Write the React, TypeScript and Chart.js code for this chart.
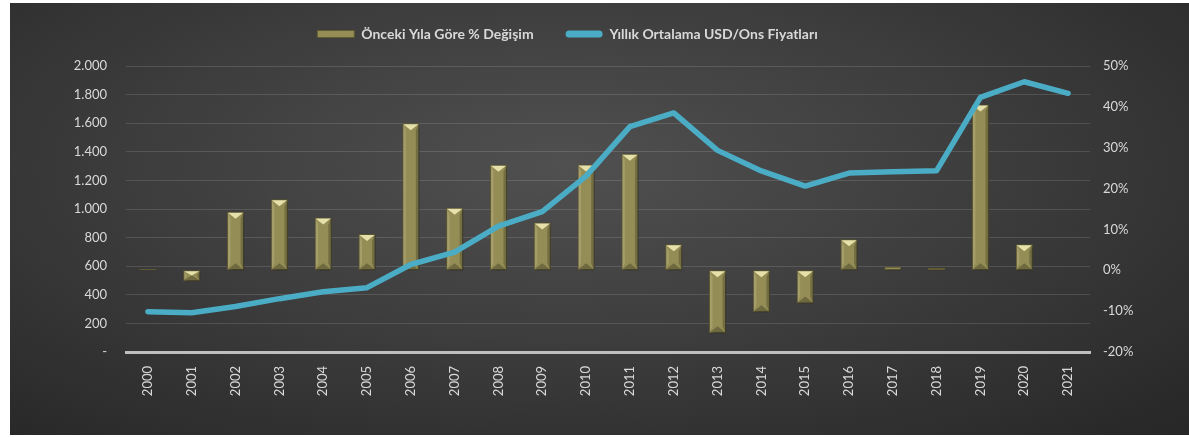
import { useEffect, useRef } from 'react';
import { Chart, registerables } from 'chart.js';

Chart.register(...registerables);

// ---------- data ----------
const years = ['2000', '2001', '2002', '2003', '2004', '2005', '2006', '2007', '2008', '2009', '2010',
  '2011', '2012', '2013', '2014', '2015', '2016', '2017', '2018', '2019', '2020', '2021'];

// Önceki yıla göre % değişim (right axis)
const pctChange: (number | null)[] = [0.3, -2.6, 14.3, 17.4, 12.9, 8.9, 36.0, 15.3, 25.8, 11.7, 25.9,
  28.5, 6.4, -15.4, -10.3, -8.1, 7.6, 0.9, 0.6, 40.6, 6.4, null];

// Yıllık ortalama USD/Ons (left axis)
const avgPrice = [282, 275, 318, 373, 421, 450, 612, 698, 880, 981, 1230,
  1576, 1672, 1410, 1266, 1160, 1251, 1261, 1268, 1780, 1890, 1809];

const leftTickLabels = ['-', '200', '400', '600', '800', '1.000', '1.200', '1.400', '1.600', '1.800', '2.000'];
const rightTickLabels = ['-20%', '-10%', '0%', '10%', '20%', '30%', '40%', '50%'];

const barLabel = 'Önceki Yıla Göre % Değişim';
const lineLabel = 'Yıllık Ortalama USD/Ons Fiyatları';

// ---------- styles ----------
const FONT = 'Lato, "Open Sans", "DejaVu Sans", sans-serif';
const TEXT = '#d9d9d9';
const BAR = '#958d56';
const BAR_EDGE = '#5f5a31';
const LINE = '#4bacc6';

const bevelPlugin = {
  id: 'bevel',
  beforeDatasetDraw(chart: any, args: any) {
    if (args.index !== 0) return;
    const ctx = chart.ctx;
    ctx.save();
    ctx.shadowColor = 'rgba(0,0,0,0.5)';
    ctx.shadowBlur = 3;
    ctx.shadowOffsetX = 1.5;
    ctx.shadowOffsetY = 1.5;
  },
  afterDatasetDraw(chart: any, args: any) {
    if (args.index !== 0) return;
    const ctx = chart.ctx;
    ctx.restore();
    ctx.save();
    args.meta.data.forEach((el: any) => {
      const { x, y, base, width } = el.getProps(['x', 'y', 'base', 'width'], true);
      if (y == null || isNaN(y)) return;
      const l = x - width / 2 + 1;
      const r = x + width / 2 - 1;
      const t = Math.min(y, base) + 1;
      const b = Math.max(y, base) - 1;
      const h = b - t;
      if (h < 3) return;
      const d = Math.min(6, h / 2);
      const s = Math.min(2.5, width / 4);
      // left facet
      ctx.fillStyle = 'rgba(255,250,210,0.16)';
      ctx.beginPath();
      ctx.moveTo(l, t); ctx.lineTo(l + s, t + d); ctx.lineTo(l + s, b - d); ctx.lineTo(l, b);
      ctx.closePath(); ctx.fill();
      // right facet
      ctx.fillStyle = 'rgba(0,0,0,0.22)';
      ctx.beginPath();
      ctx.moveTo(r, t); ctx.lineTo(r - s, t + d); ctx.lineTo(r - s, b - d); ctx.lineTo(r, b);
      ctx.closePath(); ctx.fill();
      // bottom facet
      ctx.fillStyle = 'rgba(0,0,0,0.25)';
      ctx.beginPath();
      ctx.moveTo(l, b); ctx.lineTo(r, b); ctx.lineTo(x, b - d);
      ctx.closePath(); ctx.fill();
      // top facet
      ctx.fillStyle = 'rgba(245,238,185,0.85)';
      ctx.beginPath();
      ctx.moveTo(l, t); ctx.lineTo(r, t); ctx.lineTo(x, t + d);
      ctx.closePath(); ctx.fill();
    });
    ctx.restore();
  },
};

const LEGEND_SHIFT_X = -32;
const LEGEND_SHIFT_Y = -15;
const legendShiftPlugin = {
  id: 'legendShift',
  afterLayout(chart: any) {
    const lg = chart.legend;
    if (lg) {
      lg.left += LEGEND_SHIFT_X;
      lg.right += LEGEND_SHIFT_X;
      lg.top += LEGEND_SHIFT_Y;
      lg.bottom += LEGEND_SHIFT_Y;
    }
  },
};

export default function App() {
  const canvasRef = useRef<HTMLCanvasElement | null>(null);

  useEffect(() => {
    if (!canvasRef.current) return;
    const tickFont = { family: FONT, size: 13 };
    const chart = new Chart(canvasRef.current, {
      type: 'bar',
      data: {
        labels: years,
        datasets: [
          {
            type: 'bar',
            label: barLabel,
            data: pctChange,
            yAxisID: 'y1',
            order: 1,
            backgroundColor: BAR,
            borderColor: BAR_EDGE,
            borderWidth: 1,
            borderSkipped: false,
            barPercentage: 0.39,
            categoryPercentage: 1,
          } as any,
          {
            type: 'line',
            label: lineLabel,
            data: avgPrice,
            yAxisID: 'y',
            order: 0,
            borderColor: LINE,
            backgroundColor: LINE,
            borderWidth: 5.5,
            pointRadius: 0,
            borderCapStyle: 'round',
            borderJoinStyle: 'round',
            fill: false,
            tension: 0,
          } as any,
        ],
      },
      options: {
        animation: false,
        responsive: true,
        maintainAspectRatio: false,
        events: [],
        layout: { padding: 0 },
        plugins: {
          tooltip: { enabled: false },
          legend: {
            display: true,
            position: 'top',
            labels: {
              color: TEXT,
              font: { family: FONT, size: 14, weight: 'bold' },
              boxWidth: 37,
              boxHeight: 7,
              padding: 32,
              sort: (a: any, b: any) => a.datasetIndex - b.datasetIndex,
              generateLabels: (c: any) => {
                const items = (Chart.defaults.plugins.legend.labels as any).generateLabels(c);
                return items.map((it: any) =>
                  it.datasetIndex === 1
                    ? { ...it, fillStyle: LINE, strokeStyle: LINE, lineWidth: 0, borderRadius: 3.5 }
                    : { ...it, fillStyle: BAR, strokeStyle: BAR_EDGE, lineWidth: 1, borderRadius: 0 }
                );
              },
            },
          },
        },
        scales: {
          x: {
            grid: { display: false },
            border: { display: true, color: '#bfbfbf', width: 3 },
            ticks: {
              color: TEXT,
              font: tickFont,
              minRotation: 90,
              maxRotation: 90,
              autoSkip: false,
              padding: 6,
            },
            afterFit: (s: any) => {
              s.height = 83;
              s.paddingLeft = 0;
              s.paddingRight = 0;
            },
          },
          y: {
            position: 'left',
            min: 0,
            max: 2000,
            ticks: {
              stepSize: 200,
              padding: 19,
              color: TEXT,
              font: tickFont,
              callback: (v: any) => leftTickLabels[Math.round(Number(v) / 200)],
            },
            grid: { color: 'rgba(255,255,255,0.13)', lineWidth: 1, drawTicks: false },
            border: { display: false },
            afterFit: (s: any) => {
              s.width = 116;
              s.paddingTop = 73;
            },
          },
          y1: {
            position: 'right',
            min: -20,
            max: 50,
            ticks: {
              stepSize: 10,
              padding: 13,
              color: TEXT,
              font: tickFont,
              callback: (v: any) => rightTickLabels[Math.round((Number(v) + 20) / 10)],
            },
            grid: { display: false, drawTicks: false },
            border: { display: false },
            afterFit: (s: any) => {
              s.width = 99;
            },
          },
        },
      } as any,
      plugins: [bevelPlugin, legendShiftPlugin],
    });
    return () => chart.destroy();
  }, []);

  return (
    <div
      style={{
        position: 'absolute',
        left: 10,
        top: 3,
        width: 1179,
        height: 432,
        overflow: 'hidden',
        background:
          'radial-gradient(ellipse 75% 85% at 47% 38%, #505050 0%, #3e3e3e 45%, #272727 100%)',
      }}
    >
      <div style={{ position: 'absolute', left: 0, top: -10, width: 1179, height: 442 }}>
        <canvas ref={canvasRef} />
      </div>
    </div>
  );
}
